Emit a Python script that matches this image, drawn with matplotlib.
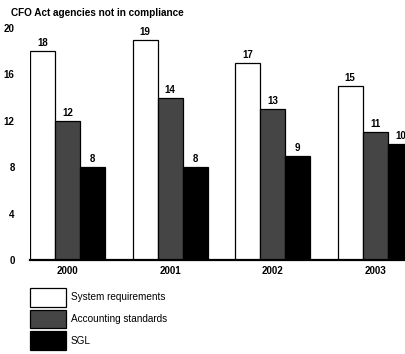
import matplotlib
matplotlib.use("Agg")
import matplotlib.pyplot as plt
from matplotlib.patches import Patch
import numpy as np

years = ["2000", "2001", "2002", "2003"]
system_requirements = [18, 19, 17, 15]
accounting_standards = [12, 14, 13, 11]
sgl = [8, 8, 9, 10]
series_names = ["System requirements", "Accounting standards", "SGL"]
y_ticks = [0, 4, 8, 12, 16, 20]

plt.rcParams["font.family"] = ["Liberation Sans", "DejaVu Sans"]

fig = plt.figure(figsize=(4.05, 3.54), dpi=100)
W, H = 405, 354
ax = fig.add_axes([30 / W, 1 - 260 / H, (405 - 30) / W, (260 - 28) / H])

x = np.arange(len(years))
w = 0.244
colors = ["white", "#454545", "black"]
series = [system_requirements, accounting_standards, sgl]
for i, (vals, c) in enumerate(zip(series, colors)):
    pos = x + (i - 1) * w
    ax.bar(pos, vals, width=w, color=c, edgecolor="black", linewidth=0.9)
    for px, v in zip(pos, vals):
        ax.text(px, v + 0.25, str(v), ha="center", va="bottom",
                fontsize=7, fontweight="bold")

ax.set_xlim(-1.5 * w, 3.29)
ax.set_ylim(0, 20)
ax.set_yticks(y_ticks)
ax.set_yticklabels([str(t) for t in y_ticks], fontsize=7, fontweight="bold")
ax.set_xticks(x)
ax.set_xticklabels(years, fontsize=7, fontweight="bold")
ax.tick_params(axis="both", length=0)
ax.tick_params(axis="y", pad=11)
ax.tick_params(axis="x", pad=4)
for s in ["left", "right", "top"]:
    ax.spines[s].set_visible(False)
ax.spines["bottom"].set_linewidth(1.6)

fig.text(11 / W, 1 - 13 / H, "CFO Act agencies not in compliance",
         fontsize=7.2, fontweight="bold", ha="left", va="center")

handles = [Patch(facecolor=c, edgecolor="black", linewidth=0.9) for c in colors]
fig.legend(handles, series_names, loc="upper left",
           bbox_to_anchor=(27 / W, 1 - 285 / H), frameon=False,
           fontsize=7.2, handlelength=3.6, handleheight=2.5,
           labelspacing=0.3, handletextpad=0.5, borderaxespad=0,
           borderpad=0.3)

fig.savefig("out.png", dpi=100)
